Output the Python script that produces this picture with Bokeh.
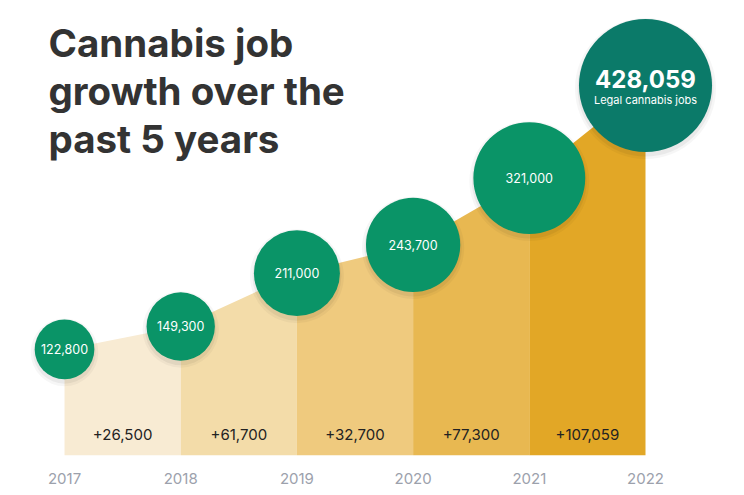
import numpy as np
from bokeh.plotting import figure
from bokeh.models import Range1d, FixedTicker, Label, ColumnDataSource
from bokeh.core.properties import value
from bokeh.embed import file_html
from bokeh.resources import INLINE

# ---------------- data ----------------
years = [2017, 2018, 2019, 2020, 2021, 2022]
jobs = [122800, 149300, 211000, 243700, 321000, 428059]
year_labels = ["2017", "2018", "2019", "2020", "2021", "2022"]
total_caption = "Legal cannabis jobs"
title_lines = ["Cannabis job", "growth over the", "past 5 years"]

# ---------------- style ----------------
segment_colors = ["#f8ebd3", "#f3dca9", "#efca7e", "#e8b851", "#e2a726"]
bubble_color = "#0a9467"
total_color = "#0b7a69"
FONT = "Inter"

W, H = 744, 495
FRAME_H = 455
PX_PER_JOB = 0.8642 / 1000.0

p = figure(width=W, height=H, output_backend="svg", toolbar_location=None,
           x_range=Range1d(2016.449, 2022.852),
           y_range=Range1d(0, FRAME_H / PX_PER_JOB),
           min_border_left=0, min_border_right=0, min_border_top=0,
           min_border_bottom=H - FRAME_H)
p.outline_line_color = None
p.background_fill_color = "white"
p.border_fill_color = "white"
p.xgrid.visible = False
p.ygrid.visible = False
p.yaxis.visible = False

# area segments
for i in range(len(years) - 1):
    p.varea(x=years[i:i + 2], y1=[0, 0], y2=jobs[i:i + 2],
            fill_color=segment_colors[i], fill_alpha=1.0)

# growth labels in each segment
mids = [(years[i] + years[i + 1]) / 2 for i in range(len(years) - 1)]
growth = np.diff(jobs)
growth_labels = [f"+{g:,}" for g in growth]
p.text(x=mids, y=[0] * len(mids), text=growth_labels, y_offset=-21,
       text_font=value(FONT), text_font_size="15px", text_color="#222222",
       text_align="center", text_baseline="middle")

# bubbles
jobs_arr = np.array(jobs, dtype=float)
radius_px = -12.5 + 3.82 * np.sqrt(jobs_arr / 1000.0)
diam = 2 * radius_px
colors = [bubble_color] * (len(years) - 1) + [total_color]
shadow_dy = 3 / PX_PER_JOB
p.scatter(x=years, y=list(jobs_arr - shadow_dy), size=list(diam + 8),
          marker="circle", fill_color="black", fill_alpha=0.035, line_color=None)
p.scatter(x=years, y=list(jobs_arr - shadow_dy), size=list(diam + 3),
          marker="circle", fill_color="black", fill_alpha=0.05, line_color=None)
src = ColumnDataSource(dict(x=years, y=jobs, size=list(diam), color=colors))
p.scatter("x", "y", size="size", source=src, marker="circle",
          fill_color="color", line_color=None)

value_labels = [f"{v:,}" for v in jobs]
p.text(x=years[:-1], y=jobs[:-1], text=value_labels[:-1],
       text_font=value(FONT), text_font_size="12.5px", text_color="white",
       text_align="center", text_baseline="middle")
p.text(x=[years[-1]], y=[jobs[-1]], text=[value_labels[-1]], y_offset=-7,
       text_font=value(FONT), text_font_size="24px", text_font_style="bold",
       text_color="white", text_align="center", text_baseline="middle")
p.text(x=[years[-1]], y=[jobs[-1]], text=[total_caption], y_offset=14,
       text_font=value(FONT), text_font_size="11px", text_color="white",
       text_align="center", text_baseline="middle")

# x axis (years)
p.xaxis.ticker = FixedTicker(ticks=years)
p.xaxis.major_label_overrides = {y: l for y, l in zip(years, year_labels)}
p.xaxis.axis_line_color = None
p.xaxis.major_tick_line_color = None
p.xaxis.minor_tick_line_color = None
p.xaxis.major_tick_out = 0
p.xaxis.major_tick_in = 0
p.xaxis.major_label_standoff = 17
p.xaxis.major_label_text_font = FONT
p.xaxis.major_label_text_font_size = "15px"
p.xaxis.major_label_text_color = "#9ca1ac"

# title
for i, line in enumerate(title_lines):
    p.add_layout(Label(x=48, y=FRAME_H - 42 - 48 * i, x_units="screen", y_units="screen",
                       text=line, text_font=FONT, text_font_style="bold",
                       text_font_size="38.5px", text_color="#333333",
                       text_baseline="alphabetic"))

open("out.html", "w").write(file_html(p, INLINE))
